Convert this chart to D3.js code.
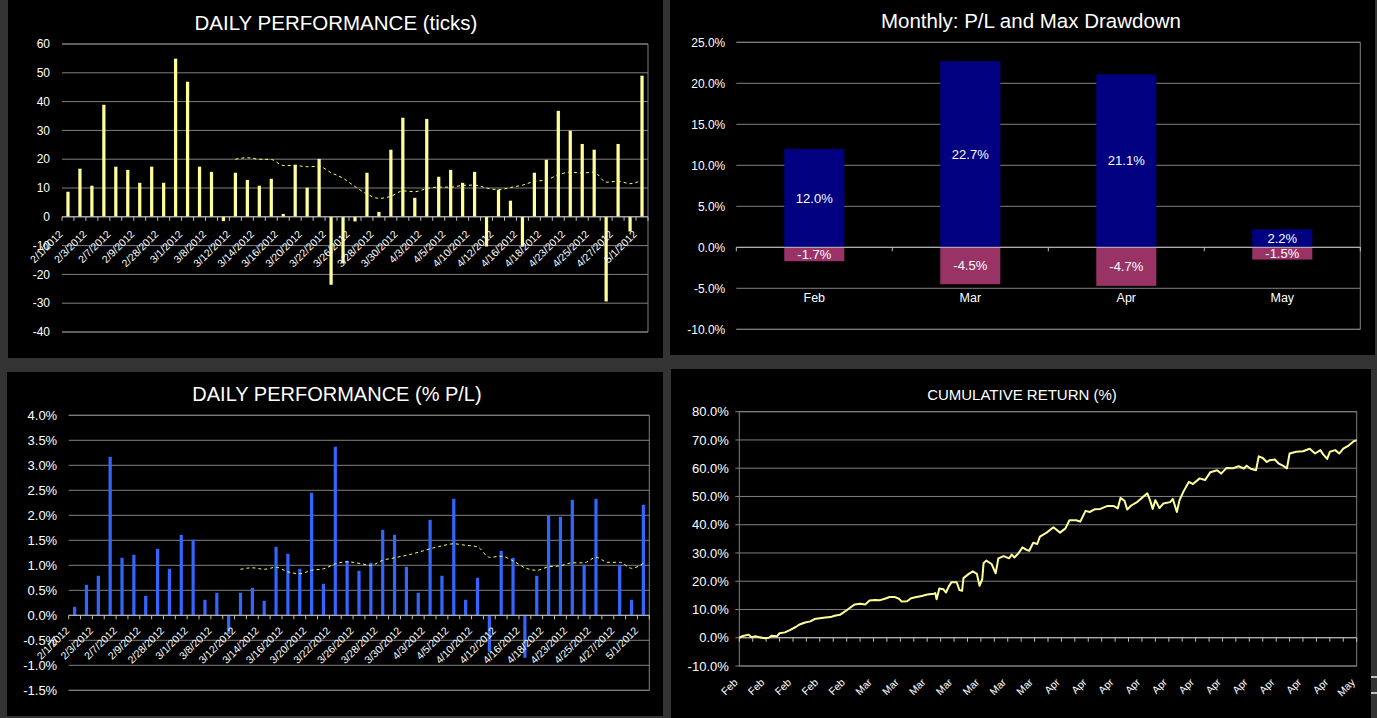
<!DOCTYPE html>
<meta charset="utf-8">
<style>
  body { margin: 0; background: #333; }
  svg { display: block; font-family: "Liberation Sans", Arial, sans-serif; }
  text { fill: #fff; }
</style>
<svg width="1377" height="718"></svg>
<script src="https://d3js.org/d3.v7.min.js"></script>
<script>

  // ---- data ----

  // every other trading day is labelled on the daily charts
  var dateLabels = ["2/1/2012", "2/3/2012", "2/7/2012", "2/9/2012", "2/28/2012", "3/1/2012",
    "3/8/2012", "3/12/2012", "3/14/2012", "3/16/2012", "3/20/2012", "3/22/2012", "3/26/2012",
    "3/28/2012", "3/30/2012", "4/3/2012", "4/5/2012", "4/10/2012", "4/12/2012", "4/16/2012",
    "4/18/2012", "4/23/2012", "4/25/2012", "4/27/2012", "5/1/2012"];

  var dailyTicks = [8.7, 16.7, 10.8, 38.9, 17.4, 16.3, 11.8, 17.4, 11.8, 54.9,
    46.9, 17.4, 15.6, -1.5, 15.3, 12.8, 10.8, 13.2, 1.0, 18.1,
    10.1, 20.1, -23.6, -16.1, -1.6, 15.3, 1.7, 23.3, 34.4, 6.6,
    34.0, 13.9, 16.3, 11.8, 15.6, -10.3, 9.4, 5.6, -10.3, 15.3,
    19.8, 36.8, 29.9, 25.3, 23.3, -29.4, 25.3, -5.1, 49.0];

  // moving average trendline, starts at the 15th day
  var maStart = 14;
  var dailyTicksAvg = [20.0, 20.5, 20.0, 19.9, 17.8, 17.8, 17.4, 17.5, 15.3, 13.4,
    10.5, 7.9, 6.4, 7.1, 9.0, 8.7, 9.8, 10.3, 10.3, 10.9,
    11.0, 10.0, 9.4, 10.2, 11.0, 12.3, 12.8, 14.6, 15.5, 15.2,
    15.5, 12.0, 12.4, 11.5, 12.8];

  var dailyPct = [0.17, 0.61, 0.79, 3.17, 1.15, 1.21, 0.39, 1.33, 0.93, 1.61,
    1.51, 0.31, 0.45, -0.37, 0.45, 0.55, 0.29, 1.37, 1.23, 0.93,
    2.45, 0.63, 3.37, 1.09, 0.89, 1.05, 1.71, 1.61, 0.97, 0.45,
    1.91, 0.79, 2.33, 0.31, 0.75, -0.73, 1.29, 1.15, -0.85, 0.79,
    1.99, 1.97, 2.31, 1.01, 2.33, null, 1.01, 0.31, 2.21];

  var dailyPctAvg = [0.92, 0.95, 0.92, 0.96, 0.87, 0.83, 0.90, 0.93, 1.03, 1.07,
    1.04, 1.00, 1.10, 1.15, 1.20, 1.26, 1.33, 1.39, 1.43, 1.40,
    1.37, 1.16, 1.18, 1.09, 0.95, 0.90, 0.97, 0.99, 1.05, 1.05,
    1.16, 1.06, 1.06, 0.94, 1.04];

  var months = ["Feb", "Mar", "Apr", "May"];
  var monthlyPL = [12.0, 22.7, 21.1, 2.2];
  var monthlyDD = [-1.7, -4.5, -4.7, -1.5];

  // cumulative return, by trade number
  var cumTrade = [0, 2, 7, 9, 12, 15, 19, 22, 24, 28, 30, 34, 38, 42, 45, 49, 53, 56, 60, 64,
    68, 71, 75, 79, 83, 86, 90, 94, 97, 101, 105, 109, 112, 116, 119, 121, 125, 128, 132, 136,
    140, 145, 146, 147, 149, 152, 154, 156, 158, 162, 164, 166, 167, 171, 174, 177, 179, 181, 182, 184,
    188, 191, 193, 197, 201, 203, 205, 208, 211, 214, 216, 219, 222, 224, 229, 234, 239, 243, 246, 251,
    254, 258, 261, 265, 269, 274, 279, 282, 284, 287, 289, 292, 296, 300, 304, 306, 308, 310, 313, 316,
    321, 323, 326, 328, 331, 335, 338, 343, 347, 351, 356, 359, 363, 368, 372, 376, 378, 381, 385, 387,
    390, 393, 395, 399, 402, 405, 408, 410, 415, 420, 425, 429, 433, 435, 438, 440, 444, 447, 450, 454,
    458, 460];
  var cumReturn = [0.0, 0.5, 1.1, 0.2, 0.5, 0.2, -0.2, 0.0, 0.7, 0.5, 1.6, 1.9, 2.8, 3.8, 4.7, 5.4, 5.8, 6.6, 6.9, 7.2,
    7.3, 7.8, 8.1, 9.4, 10.8, 11.8, 12.0, 11.8, 13.2, 13.4, 13.3, 13.9, 14.4, 14.4, 13.8, 12.8, 12.9, 14.0, 14.4, 14.8,
    15.3, 15.6, 15.8, 13.6, 17.4, 17.2, 16.0, 18.1, 19.6, 19.6, 16.9, 16.6, 21.1, 22.6, 23.5, 22.6, 18.4, 20.7, 26.4, 27.3,
    26.1, 22.8, 28.1, 28.9, 28.1, 29.4, 28.4, 29.9, 32.0, 31.1, 30.8, 33.6, 33.2, 35.8, 37.2, 39.1, 37.2, 38.7, 41.6, 41.6,
    41.1, 44.9, 44.5, 45.5, 45.6, 46.6, 46.6, 45.8, 49.5, 48.5, 45.4, 46.8, 47.9, 49.5, 51.1, 48.7, 45.6, 48.7, 45.9, 47.5,
    48.0, 49.1, 44.5, 48.7, 51.8, 55.2, 54.4, 56.4, 55.8, 58.6, 59.3, 58.1, 60.1, 60.0, 60.7, 59.9, 60.9, 59.8, 59.3, 64.2,
    63.6, 62.2, 62.8, 63.1, 61.6, 60.9, 59.9, 65.2, 65.8, 66.0, 66.9, 65.2, 66.4, 64.9, 63.3, 65.8, 66.4, 65.2, 66.9, 68.0,
    69.6, 69.9];

  var cumMonthLabels = ["Feb", "Feb", "Feb", "Feb", "Feb", "Mar", "Mar", "Mar", "Mar", "Mar", "Mar", "Mar",
    "Apr", "Apr", "Apr", "Apr", "Apr", "Apr", "Apr", "Apr", "Apr", "Apr", "Apr", "May"];

  var ticksYTicks = [-40, -30, -20, -10, 0, 10, 20, 30, 40, 50, 60];
  var pctYTicks = [-1.5, -1.0, -0.5, 0, 0.5, 1.0, 1.5, 2.0, 2.5, 3.0, 3.5, 4.0];
  var monthlyYTicks = [-10, -5, 0, 5, 10, 15, 20, 25];
  var cumYTicks = [-10, 0, 10, 20, 30, 40, 50, 60, 70, 80];

  var pctFmt = function (d) { return d.toFixed(1) + "%"; };

  var svg = d3.select("svg");

  svg.append("rect").attr("width", 1377).attr("height", 718).attr("fill", "#333333");

  // black chart panels
  [[8, 0, 655, 358], [670, 0, 705, 355], [7, 372, 656, 344], [671, 369, 700, 349]].forEach(function (p) {
    svg.append("rect").attr("x", p[0]).attr("y", p[1]).attr("width", p[2]).attr("height", p[3]).attr("fill", "#000");
  });

  // little grey stubs at the far right edge
  [677, 693].forEach(function (yy) {
    svg.append("line").attr("x1", 1371).attr("x2", 1377).attr("y1", yy).attr("y2", yy)
      .attr("stroke", "#bdbdbd").attr("stroke-width", 2);
  });

  function title(txt, cx, cy, size) {
    svg.append("text").attr("x", cx).attr("y", cy).attr("text-anchor", "middle")
      .attr("font-size", size).text(txt);
  }

  function gridlines(g, y, ticks, x1, x2) {
    g.append("g").selectAll("line").data(ticks).join("line")
      .attr("x1", x1).attr("x2", x2)
      .attr("y1", function (d) { return y(d); })
      .attr("y2", function (d) { return y(d); })
      .attr("stroke", "#808080");
  }

  function yLabels(g, y, ticks, x, size, fmt) {
    g.append("g").selectAll("text").data(ticks).join("text")
      .attr("x", x).attr("y", function (d) { return y(d); })
      .attr("dy", "0.35em").attr("text-anchor", "end")
      .attr("font-size", size).text(fmt);
  }

  //
  // * Daily bar charts (ticks and % P/L)
  //
  function dailyChart(c) {
    var g = svg.append("g");
    var x = d3.scaleBand().domain(d3.range(c.values.length)).range([c.left, c.right]);
    var y = d3.scaleLinear().domain(c.domain).range([c.bottom, c.top]);

    gridlines(g, y, c.yTicks, c.left, c.right);
    g.append("path")
      .attr("d", "M" + c.left + "," + y(c.domain[1]) + "H" + c.right + "V" + y(c.domain[0]) + "H" + c.left)
      .attr("fill", "none").attr("stroke", "#808080");
    yLabels(g, y, c.yTicks, c.left - c.labelGap, c.fontSize, c.fmt);

    var bw = x.bandwidth() * 0.27;
    g.append("g").selectAll("rect")
      .data(c.values.map(function (v, i) { return { i: i, v: v }; }).filter(function (d) { return d.v !== null; }))
      .join("rect")
      .attr("x", function (d) { return x(d.i) + (x.bandwidth() - bw) / 2; })
      .attr("y", function (d) { return y(Math.max(0, d.v)); })
      .attr("width", bw)
      .attr("height", function (d) { return Math.abs(y(d.v) - y(0)); })
      .attr("fill", c.barColor);

    // trendline
    var line = d3.line()
      .x(function (d) { return x(d.i) + x.bandwidth() / 2; })
      .y(function (d) { return y(d.v); })
      .curve(d3.curveMonotoneX);
    g.append("path")
      .datum(c.avg.map(function (v, k) { return { i: maStart + k, v: v }; }))
      .attr("d", line)
      .attr("fill", "none").attr("stroke", "#ffff66").attr("stroke-width", 1)
      .attr("stroke-dasharray", "3,3");

    // zero axis with tick marks at category boundaries
    g.append("line").attr("x1", c.left).attr("x2", c.right)
      .attr("y1", y(0)).attr("y2", y(0)).attr("stroke", "#c0c0c0");
    g.append("g").selectAll("line").data(d3.range(c.values.length + 1)).join("line")
      .attr("x1", function (d) { return c.left + d * x.step(); })
      .attr("x2", function (d) { return c.left + d * x.step(); })
      .attr("y1", y(0)).attr("y2", y(0) + 4)
      .attr("stroke", "#c0c0c0");

    // rotated date labels, every other day
    g.append("g").selectAll("text")
      .data(dateLabels.map(function (d, k) { return { label: d, i: k * 2 }; }))
      .join("text")
      .attr("text-anchor", "end")
      .attr("font-size", 10.5)
      .attr("transform", function (d) {
        return "translate(" + (x(d.i) + x.bandwidth() / 2 + c.labelDx) + "," + (y(0) + c.labelDy) + ") rotate(-45)";
      })
      .text(function (d) { return d.label; });
  }

  title("DAILY PERFORMANCE (ticks)", 336, 30, 20.5);
  dailyChart({
    left: 62, right: 648, top: 44, bottom: 332,
    domain: [-40, 60], yTicks: ticksYTicks,
    values: dailyTicks, avg: dailyTicksAvg, barColor: "#ffff99",
    fmt: function (d) { return String(d); }, fontSize: 12, labelGap: 12,
    labelDx: -4.5, labelDy: 18
  });

  title("DAILY PERFORMANCE (% P/L)", 337, 401, 20);
  dailyChart({
    left: 68.7, right: 649.3, top: 415.3, bottom: 690.3,
    domain: [-1.5, 4.0], yTicks: pctYTicks,
    values: dailyPct, avg: dailyPctAvg, barColor: "#3366ff",
    fmt: pctFmt, fontSize: 13, labelGap: 11.5,
    labelDx: -4.5, labelDy: 16
  });

  //
  // * Monthly P/L and max drawdown
  //
  (function () {
    var L = 736.3, R = 1360.3, T = 42.3, B = 329.3;
    var g = svg.append("g");
    var x = d3.scaleBand().domain(months).range([L, R]);
    var y = d3.scaleLinear().domain([-10, 25]).range([B, T]);

    title("Monthly: P/L and Max Drawdown", 1031, 28, 20.5);
    gridlines(g, y, monthlyYTicks, L, R);
    g.append("path").attr("d", "M" + L + "," + T + "H" + R + "V" + B + "H" + L)
      .attr("fill", "none").attr("stroke", "#808080");
    yLabels(g, y, monthlyYTicks, L - 11, 12, pctFmt);

    var bw = x.bandwidth() * 0.385;
    var bars = months.map(function (m, i) { return { m: m, pl: monthlyPL[i], dd: monthlyDD[i] }; });

    g.append("g").selectAll("rect").data(bars).join("rect")
      .attr("x", function (d) { return x(d.m) + (x.bandwidth() - bw) / 2; })
      .attr("y", function (d) { return y(d.pl); })
      .attr("width", bw)
      .attr("height", function (d) { return y(0) - y(d.pl); })
      .attr("fill", "#000080");
    g.append("g").selectAll("rect").data(bars).join("rect")
      .attr("x", function (d) { return x(d.m) + (x.bandwidth() - bw) / 2; })
      .attr("y", y(0))
      .attr("width", bw)
      .attr("height", function (d) { return y(d.dd) - y(0); })
      .attr("fill", "#993366");

    g.append("line").attr("x1", L).attr("x2", R).attr("y1", y(0)).attr("y2", y(0)).attr("stroke", "#c0c0c0");
    g.append("g").selectAll("line").data(d3.range(months.length + 1)).join("line")
      .attr("x1", function (d) { return L + d * x.step(); })
      .attr("x2", function (d) { return L + d * x.step(); })
      .attr("y1", y(0)).attr("y2", y(0) + 4).attr("stroke", "#c0c0c0");

    // value labels in the middle of each segment
    g.append("g").selectAll("text").data(bars).join("text")
      .attr("x", function (d) { return x(d.m) + x.bandwidth() / 2; })
      .attr("y", function (d) { return y(d.pl / 2); })
      .attr("dy", "0.35em").attr("text-anchor", "middle").attr("font-size", 13)
      .text(function (d) { return pctFmt(d.pl); });
    g.append("g").selectAll("text").data(bars).join("text")
      .attr("x", function (d) { return x(d.m) + x.bandwidth() / 2; })
      .attr("y", function (d) { return y(d.dd / 2); })
      .attr("dy", "0.35em").attr("text-anchor", "middle").attr("font-size", 13)
      .text(function (d) { return pctFmt(d.dd); });

    g.append("g").selectAll("text").data(months).join("text")
      .attr("x", function (d) { return x(d) + x.bandwidth() / 2; })
      .attr("y", 302)
      .attr("text-anchor", "middle").attr("font-size", 12.5)
      .text(function (d) { return d; });
  })();

  //
  // * Cumulative return
  //
  (function () {
    var L = 739.3, R = 1356.7, T = 411.7, B = 666;
    var g = svg.append("g");
    var x = d3.scaleLinear().domain([0, 460]).range([L, R]);
    var y = d3.scaleLinear().domain([-10, 80]).range([B, T]);

    title("CUMULATIVE RETURN (%)", 1022, 400, 15);
    gridlines(g, y, cumYTicks, L - 4, R);
    g.append("rect").attr("x", L).attr("y", T).attr("width", R - L).attr("height", B - T)
      .attr("fill", "none").attr("stroke", "#808080");
    yLabels(g, y, cumYTicks, L - 10.5, 13, pctFmt);

    g.append("line").attr("x1", L).attr("x2", R).attr("y1", y(0)).attr("y2", y(0)).attr("stroke", "#c0c0c0");
    g.append("g").selectAll("line").data(d3.range(0, 461, 10)).join("line")
      .attr("x1", function (d) { return x(d); }).attr("x2", function (d) { return x(d); })
      .attr("y1", y(0)).attr("y2", y(0) + 4).attr("stroke", "#c0c0c0");

    g.append("g").selectAll("text")
      .data(cumMonthLabels.map(function (m, k) { return { m: m, t: k * 20 }; }))
      .join("text")
      .attr("text-anchor", "end").attr("font-size", 10.5)
      .attr("transform", function (d) { return "translate(" + (x(d.t) - 1) + "," + (B + 17) + ") rotate(-45)"; })
      .text(function (d) { return d.m; });

    var line = d3.line()
      .x(function (d) { return x(d[0]); })
      .y(function (d) { return y(d[1]); });
    g.append("path")
      .datum(cumTrade.map(function (t, i) { return [t, cumReturn[i]]; }))
      .attr("d", line)
      .attr("fill", "none").attr("stroke", "#ffff99").attr("stroke-width", 2)
      .attr("stroke-linejoin", "round");
  })();

</script>
